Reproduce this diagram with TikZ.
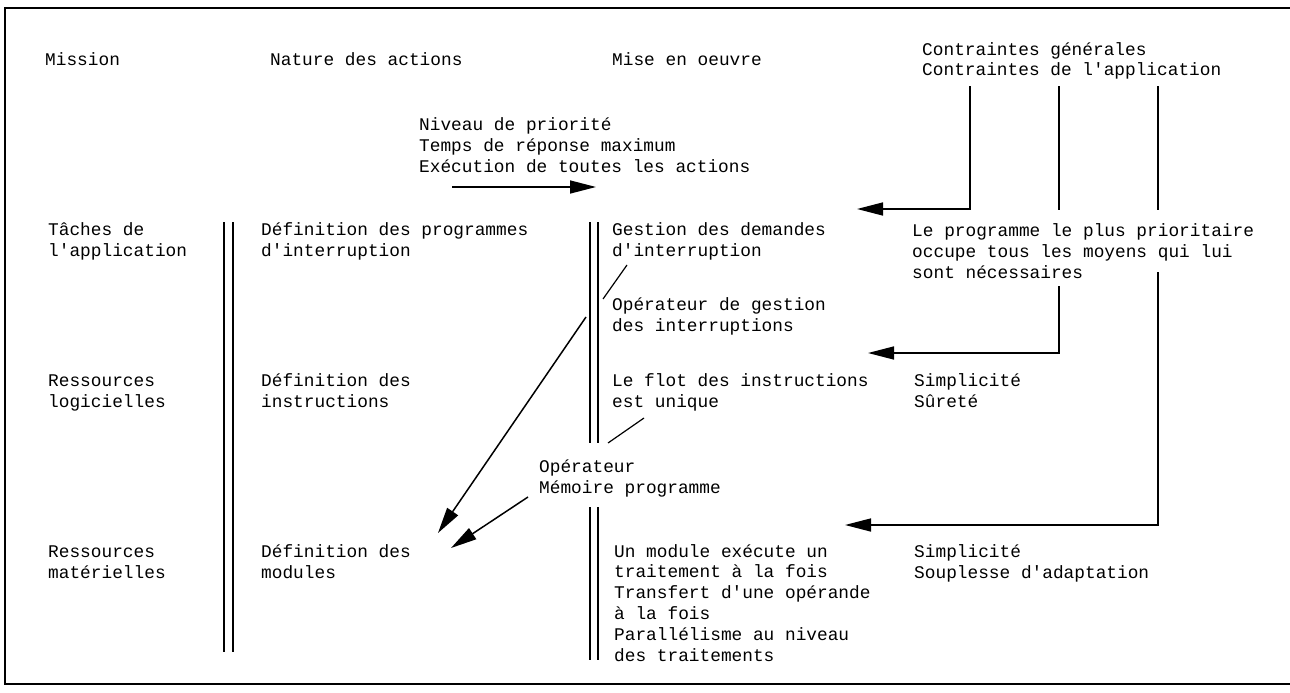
\documentclass[tikz,border=0pt]{standalone}
\usepackage{fontspec}
\newfontfamily\tw{Liberation Mono}
\newcommand\aps{\textquotesingle}
\usetikzlibrary{arrows.meta}
\begin{document}
\begin{tikzpicture}[x=1pt,y=-1pt,
  txt/.style={font=\tw\fontsize{17.8}{20.8}\selectfont, anchor=base west, inner sep=0pt, align=left},
  frame/.style={line width=1.4pt},
  rule/.style={line width=1.5pt},
  conn/.style={line width=1.5pt},
  arr/.style={conn, -{Triangle[length=26pt,width=13pt]}}]
\useasboundingbox (0,0) rectangle (1290,693);
% frame
\draw[frame] (1290,8) -- (5,8) -- (5,684) -- (1290,684);
% texts (anchor = baseline of the last line)
\node[txt] (mission) at (45,66) {Mission};
\node[txt] (nature) at (270,66) {Nature des actions};
\node[txt] (mise) at (612,66) {Mise en oeuvre};
\node[txt] (contr) at (922,76) {Contraintes générales\\Contraintes de l\aps application};
\node[txt] (niveau) at (419,172) {Niveau de priorité\\Temps de réponse maximum\\Exécution de toutes les actions};
\node[txt] (taches) at (48,256) {Tâches de\\l\aps application};
\node[txt] (defprog) at (261,256) {Définition des programmes\\d\aps interruption};
\node[txt] (gestion) at (612,256) {Gestion des demandes\\d\aps interruption};
\node[txt] (prio) at (912,278) {Le programme le plus prioritaire\\occupe tous les moyens qui lui\\sont nécessaires};
\node[txt] (opgest) at (612,331) {Opérateur de gestion\\des interruptions};
\node[txt] (reslog) at (48,407) {Ressources\\logicielles};
\node[txt] (definstr) at (261,407) {Définition des\\instructions};
\node[txt] (flot) at (612,407) {Le flot des instructions\\est unique};
\node[txt] (simp1) at (914,407) {Simplicité\\Sûreté};
\node[txt] (oper) at (539,493) {Opérateur\\Mémoire programme};
\node[txt] (resmat) at (48,578) {Ressources\\matérielles};
\node[txt] (defmod) at (261,578) {Définition des\\modules};
\node[txt] (module) at (614,661) {Un module exécute un\\traitement à la fois\\Transfert d\aps une opérande\\à la fois\\Parallélisme au niveau\\des traitements};
\node[txt] (simp2) at (914,578) {Simplicité\\Souplesse d\aps adaptation};
% double rules
\draw[rule] (224,222) -- (224,652);
\draw[rule] (233,222) -- (233,652);
\draw[rule] (590,222) -- (590,443);
\draw[rule] (598,222) -- (598,443);
\draw[rule] (590,507) -- (590,660);
\draw[rule] (598,507) -- (598,660);
% coordinates for connectors
\coordinate (a0) at (452,187);
\coordinate (a1) at (596,187);
\coordinate (c1t) at (970,86);
\coordinate (c1c) at (970,209);
\coordinate (c1e) at (857,209);
\coordinate (c2t) at (1059,86);
\coordinate (c2b) at (1059,210);
\coordinate (c3t) at (1158,86);
\coordinate (c3b) at (1158,210);
\coordinate (d2t) at (1059,286);
\coordinate (d2c) at (1059,353);
\coordinate (d2e) at (868,353);
\coordinate (d3t) at (1158,272);
\coordinate (d3c) at (1158,525);
\coordinate (d3e) at (845,525);
\coordinate (g1) at (603,299);
\coordinate (g2) at (627,265);
\coordinate (f1) at (608,443);
\coordinate (f2) at (644,418);
\coordinate (l1) at (586,317);
\coordinate (l2) at (438,533);
\coordinate (m1) at (528,497);
\coordinate (m2) at (451,548);
% connectors
\draw[arr] (a0) -- (a1);
\draw[arr] (c1t) -- (c1c) -- (c1e);
\draw[conn] (c2t) -- (c2b);
\draw[conn] (c3t) -- (c3b);
\draw[arr] (d2t) -- (d2c) -- (d2e);
\draw[arr] (d3t) -- (d3c) -- (d3e);
\draw[line width=1.2pt] (g1) -- (g2);
\draw[line width=1.2pt] (f1) -- (f2);
\draw[arr] (l1) -- (l2);
\draw[arr] (m1) -- (m2);
\end{tikzpicture}
\end{document}
